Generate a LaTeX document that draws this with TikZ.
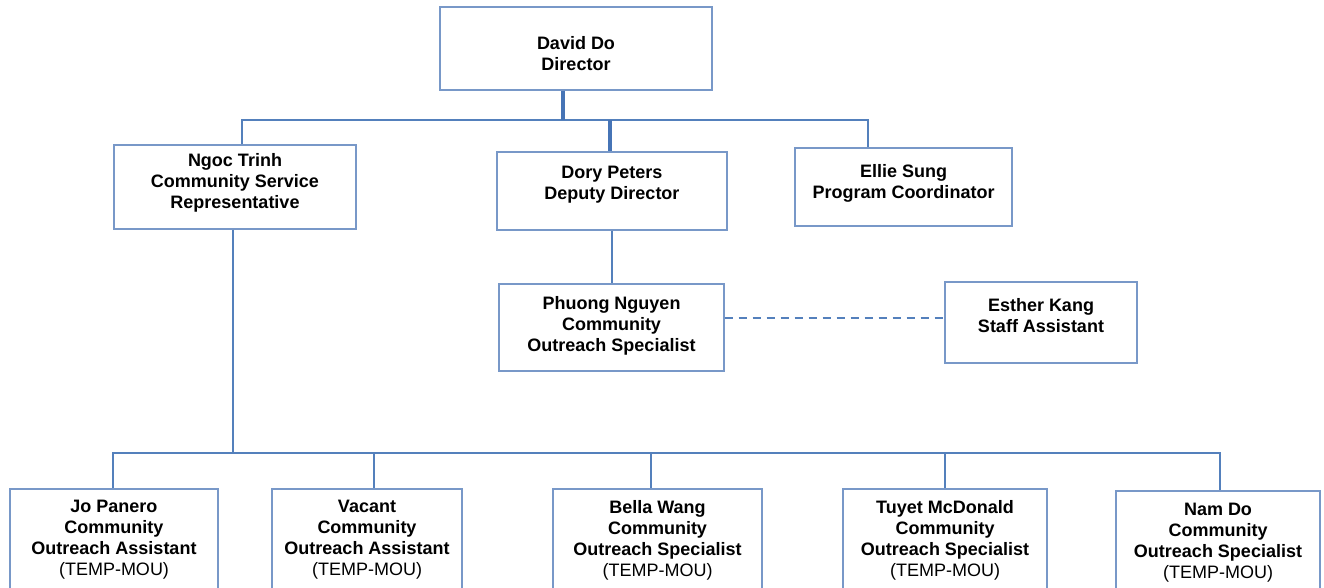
\documentclass[tikz,border=0pt]{standalone}
\usepackage{fontspec}
\setmainfont{Liberation Sans}
\definecolor{lnc}{RGB}{84,128,188}
\definecolor{thc}{RGB}{70,116,182}
\definecolor{bxc}{RGB}{120,152,200}
\begin{document}
\begin{tikzpicture}[x=0.75pt,y=-0.75pt,
  box/.style={draw=bxc, line width=0.8pt, fill=white, inner sep=0pt},
  sz/.style 2 args={minimum width=#1*0.75pt, minimum height=#2*0.75pt},
  txt/.style={align=center, inner sep=0pt, font=\fontsize{13.5}{15.75}\selectfont\bfseries},
  conn/.style={draw=lnc, line width=0.85pt},
  thk/.style={draw=thc, line width=2.3pt},
  dsh/.style={draw=lnc, line width=1.3pt, dash pattern=on 6.5pt off 4pt}]
\useasboundingbox (0,0) rectangle (1324,587);
\clip (0,0) rectangle (1324,587);
\fill[white] (0,0) rectangle (1324,587);
% boxes
\node[box, sz={272}{83}] (david) at (576,48.5) {};
\node[box, sz={242}{84}] (ngoc) at (235,187) {};
\node[box, sz={230}{78}] (dory) at (612,191) {};
\node[box, sz={217}{78}] (ellie) at (903.5,187) {};
\node[box, sz={225}{87}] (phuong) at (611.5,327.5) {};
\node[box, sz={192}{81}] (esther) at (1041,322.5) {};
\node[box, sz={208}{100}] (jo) at (114,539) {};
\node[box, sz={190}{100}] (vacant) at (367,539) {};
\node[box, sz={209}{100}] (bella) at (657.5,539) {};
\node[box, sz={204}{100}] (tuyet) at (945,539) {};
\node[box, sz={204}{100}] (nam) at (1218,541) {};
% texts
\node[txt] (davidt) at (576,54) {David Do\\Director};
\node[txt] (ngoct) at (235,183) {Ngoc Trinh\\Community Service\\Representative};
\node[txt] (doryt) at (612,185) {Dory Peters\\Deputy Director};
\node[txt] (elliet) at (903.5,183.5) {Ellie Sung\\Program Coordinator};
\node[txt] (phuongt) at (611.5,326) {Phuong Nguyen\\Community\\Outreach Specialist};
\node[txt] (esthert) at (1041,316) {Esther Kang\\Staff Assistant};
\node[txt] (jot) at (114,540) {Jo Panero\\Community\\Outreach Assistant\\{\mdseries (TEMP-MOU)}};
\node[txt] (vacantt) at (367,540) {Vacant\\Community\\Outreach Assistant\\{\mdseries (TEMP-MOU)}};
\node[txt] (bellat) at (657.5,540) {Bella Wang\\Community\\Outreach Specialist\\{\mdseries (TEMP-MOU)}};
\node[txt] (tuyett) at (945,540) {Tuyet McDonald\\Community\\Outreach Specialist\\{\mdseries (TEMP-MOU)}};
\node[txt] (namt) at (1218,543) {Nam Do\\Community\\Outreach Specialist\\{\mdseries (TEMP-MOU)}};
% junction coordinates
\coordinate (dj) at (563,120);
\coordinate (busL) at (242,120);
\coordinate (busR) at (868,120);
\coordinate (doryj) at (610,120);
\coordinate (b2j) at (233,453);
\coordinate (b2L) at (113,453);
\coordinate (b2R) at (1220,453);
\coordinate (vj) at (374,453);
\coordinate (bj) at (651,453);
\coordinate (tj) at (945,453);
\coordinate (dline) at (724,318);
% connectors
\draw[conn] (ngoc.north -| busL) -- (busL) -- (busR) -- (ellie.north -| busR);
\draw[thk] (david.south -| dj) -- (dj);
\draw[thk] (doryj) -- (dory.north -| doryj);
\draw[conn] (dory.south) -- (dory.south |- phuong.north);
\draw[dsh] (phuong.east |- dline) -- (esther.west |- dline);
\draw[conn] (ngoc.south -| b2j) -- (b2j);
\draw[conn] (jo.north -| b2L) -- (b2L) -- (b2R) -- (nam.north -| b2R);
\draw[conn] (vj) -- (vacant.north -| vj);
\draw[conn] (bj) -- (bella.north -| bj);
\draw[conn] (tj) -- (tuyet.north -| tj);
\end{tikzpicture}
\end{document}
